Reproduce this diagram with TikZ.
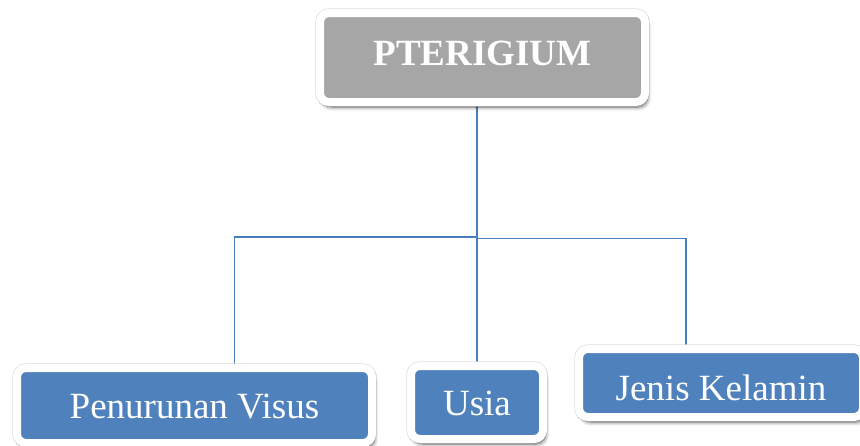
\documentclass[tikz,border=0pt]{standalone}
\usepackage{fontspec}
\setmainfont{Liberation Serif}
\usepackage{tikz}
\usetikzlibrary{shadows.blur,backgrounds}
\usepackage{xcolor}
\definecolor{rootgray}{RGB}{166,166,166}
\definecolor{leafblue}{RGB}{79,129,189}
\definecolor{linkblue}{RGB}{74,126,187}
\definecolor{rimgray}{RGB}{222,222,222}

\begin{document}
\begin{tikzpicture}[x=1pt, y=-1pt,
  box/.style={rounded corners=9pt, draw=white, line width=8pt, inner sep=0pt, text=white,
    font=\rmfamily\fontsize{37}{40}\selectfont, text height=25pt, text depth=0pt,
    preaction={draw=rimgray, line width=9.4pt},
    blur shadow={shadow xshift=2.5pt, shadow yshift=-5pt, shadow blur radius=4pt, shadow blur steps=10, shadow opacity=60}},
  rootbox/.style={box, fill=rootgray, font=\rmfamily\bfseries\fontsize{37}{40}\selectfont},
  leafbox/.style={box, fill=leafblue},
  link/.style={draw=linkblue, line width=1.3pt}]
\useasboundingbox (0,0) rectangle (860,445);
\node[rootbox, minimum width=325pt, minimum height=89pt, text depth=10pt] (pter) at (482.5,57.5) {PTERIGIUM};
\node[leafbox, minimum width=355pt, minimum height=75pt] (pen) at (194.5,405.5) {Penurunan Visus};
\node[leafbox, minimum width=132pt, minimum height=73pt] (usia) at (477,402.5) {Usia};
\node[leafbox, minimum width=284pt, minimum height=68pt, text height=34pt] (jenis) at (721,383) {Jenis Kelamin};
\begin{pgfonlayer}{background}
\coordinate (split) at ([xshift=-5.5pt]pter.south |- 0,237);
\draw[link] ([xshift=-5.5pt]pter.south) -- (split);
\draw[link] (split) -| ([xshift=40pt]pen.north);
\draw[link] (split) -- (usia.north);
\draw[link] ([yshift=-1.5pt]split) -| ([xshift=-35pt]jenis.north);
\end{pgfonlayer}
\end{tikzpicture}
\end{document}
